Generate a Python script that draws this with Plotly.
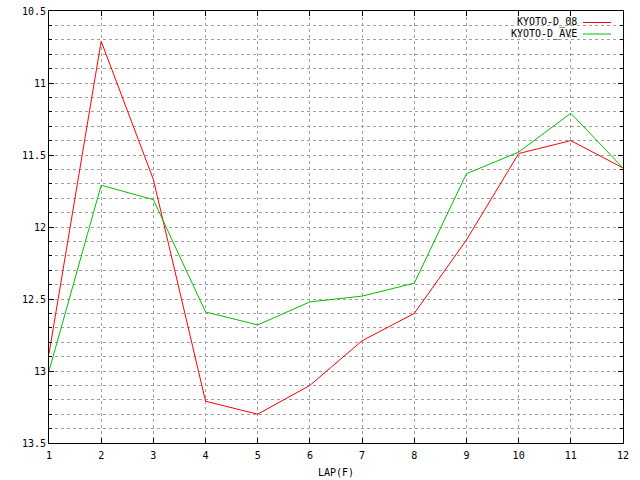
import plotly.graph_objects as go

# lap times per lap (seconds)
laps = [1, 2, 3, 4, 5, 6, 7, 8, 9, 10, 11, 12]
kyoto_08 = [12.88, 10.71, 11.67, 13.21, 13.30, 13.10, 12.79, 12.60, 12.09, 11.49, 11.40, 11.59]
kyoto_ave = [13.00, 11.71, 11.81, 12.59, 12.68, 12.52, 12.48, 12.39, 11.63, 11.48, 11.21, 11.59]
series_names = ["KYOTO-D_08", "KYOTO-D_AVE"]
series_colors = ["#ff0000", "#00c000"]

FONT = dict(family="DejaVu Sans Mono", size=10, color="black")
GRID = "#a0a0a0"

fig = go.Figure()
for name, vals, col in zip(series_names, [kyoto_08, kyoto_ave], series_colors):
    fig.add_trace(go.Scatter(
        x=laps, y=vals,
        mode="lines",
        line=dict(color=col, width=1),
        name=name,
        showlegend=False
    ))

# gnuplot-style key: text right aligned, sample line to the right
for i, (name, col) in enumerate(zip(series_names, series_colors)):
    ypos = 1 - (11.5 + 11.5 * i) / 432
    fig.add_annotation(
        x=(578 - 49) / 574, y=ypos, xref="paper", yref="paper",
        text=name, showarrow=False, xanchor="right", yanchor="middle",
        font=FONT, borderpad=0
    )
    fig.add_shape(
        type="line", xref="paper", yref="paper",
        x0=(583 - 49) / 574, x1=(611 - 49) / 574, y0=ypos, y1=ypos,
        line=dict(color=col, width=1)
    )

fig.update_xaxes(
    range=[1, 12],
    tickmode="linear", tick0=1, dtick=1,
    ticks="inside", ticklen=5, tickcolor="black",
    showline=True, linecolor="black", linewidth=1, mirror="ticks",
    showgrid=True, gridcolor=GRID, griddash="3px,3px", gridwidth=1,
    zeroline=False, automargin=False,
    tickfont=FONT, ticklabelstandoff=3, ticklabeloverflow="allow",
    title=dict(text="LAP(F)", font=FONT, standoff=8)
)
fig.update_yaxes(
    range=[13.5, 10.5],
    tickmode="linear", tick0=10.5, dtick=0.5,
    ticks="inside", ticklen=5, tickcolor="black",
    showline=True, linecolor="black", linewidth=1, mirror="ticks",
    showgrid=True, gridcolor=GRID, griddash="3px,3px", gridwidth=1,
    minor=dict(dtick=0.1, ticks="inside", ticklen=3, tickcolor="black",
               showgrid=True, gridcolor=GRID, griddash="3px,3px", gridwidth=1),
    zeroline=False, automargin=False,
    tickfont=FONT, ticklabeloverflow="allow"
)

fig.update_layout(
    width=640, height=480,
    margin=dict(l=49, r=17, t=11, b=37),
    paper_bgcolor="white",
    plot_bgcolor="white",
    font=FONT,
    showlegend=False
)

# drop the default 8px body margin so the figure fills the window
fig.write_html("out.html", config={"displayModeBar": False},
               post_script="document.body.style.margin='0';")
